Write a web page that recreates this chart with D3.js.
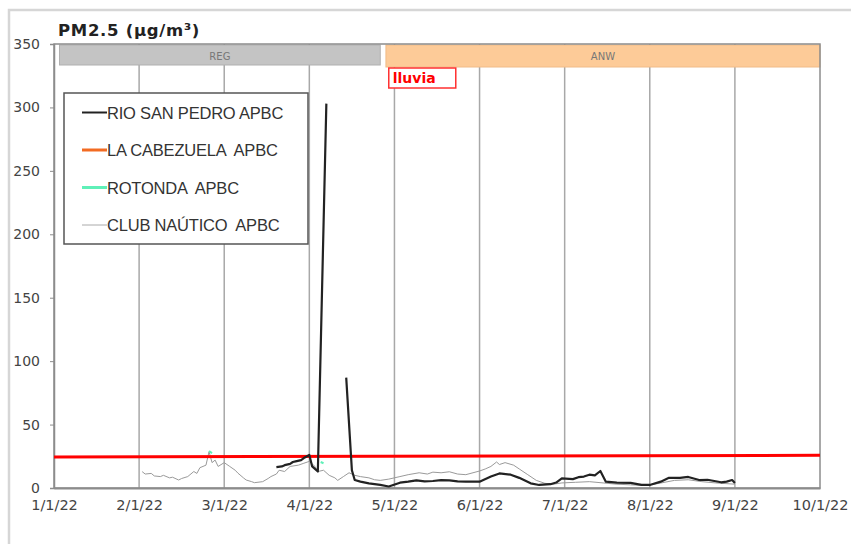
<!DOCTYPE html>
<html>
<head>
<meta charset="utf-8">
<script src="https://cdn.jsdelivr.net/npm/d3@7"></script>
<style>
  body { margin: 0; background: #fff; }
  svg { display: block; }
  text { white-space: pre; }
</style>
</head>
<body>
<div id="chart"></div>
<script>
// tick labels on the month axis
const monthLabels = ["1/1/22", "2/1/22", "3/1/22", "4/1/22", "5/1/22", "6/1/22", "7/1/22", "8/1/22", "9/1/22", "10/1/22"];
const yTicks = [0, 50, 100, 150, 200, 250, 300, 350];

const seriesNames = ["RIO SAN PEDRO APBC", "LA CABEZUELA  APBC", "ROTONDA  APBC", "CLUB NAÚTICO  APBC"];

// RIO SAN PEDRO, two pieces (gap between the two peaks)
const rioSanPedro1 = [
    ["2022-03-20", 16.5], ["2022-03-22", 17], ["2022-03-23", 18], ["2022-03-25", 19], ["2022-03-26", 20.5],
    ["2022-03-27", 21], ["2022-03-29", 22], ["2022-03-30", 23.6], ["2022-04-01", 26], ["2022-04-02", 17],
    ["2022-04-04", 13], ["2022-04-07", 303]
];
const rioSanPedro2 = [
    ["2022-04-14", 87], ["2022-04-16", 14], ["2022-04-17", 6.3], ["2022-04-19", 5], ["2022-04-22", 3.7],
    ["2022-04-26", 2.4], ["2022-04-29", 1.2], ["2022-05-03", 4.2], ["2022-05-06", 5], ["2022-05-09", 6],
    ["2022-05-12", 5.2], ["2022-05-15", 5.5], ["2022-05-18", 6.2], ["2022-05-21", 6], ["2022-05-24", 5.2],
    ["2022-05-27", 5], ["2022-06-01", 5], ["2022-06-05", 9], ["2022-06-08", 11.5], ["2022-06-12", 10.5],
    ["2022-06-15", 8], ["2022-06-19", 3.7], ["2022-06-22", 2.4], ["2022-06-26", 3], ["2022-06-28", 4.3],
    ["2022-06-30", 7.6], ["2022-07-04", 7], ["2022-07-06", 8.5], ["2022-07-08", 9], ["2022-07-10", 10.5],
    ["2022-07-12", 10], ["2022-07-14", 13.4], ["2022-07-16", 5], ["2022-07-20", 4.3], ["2022-07-25", 4],
    ["2022-07-29", 2.4], ["2022-08-01", 2.4], ["2022-08-05", 5], ["2022-08-08", 8], ["2022-08-12", 8],
    ["2022-08-15", 8.7], ["2022-08-19", 6.3], ["2022-08-22", 6.5], ["2022-08-24", 5.7], ["2022-08-27", 4.5],
    ["2022-08-29", 5], ["2022-08-31", 6.3], ["2022-09-01", 4]
];

const laCabezuela = [];

// only a couple of short traces show
const rotonda1 = [["2022-02-24", 29], ["2022-02-25", 27.5]];
const rotonda2 = [["2022-04-05", 20.5], ["2022-04-06", 19.5]];

const clubNautico = [
    ["2022-02-02", 12.9], ["2022-02-03", 11], ["2022-02-05", 11.5], ["2022-02-06", 9.5], ["2022-02-08", 9],
    ["2022-02-09", 10], ["2022-02-11", 8], ["2022-02-12", 8.5], ["2022-02-14", 6.3], ["2022-02-15", 7.5],
    ["2022-02-17", 9], ["2022-02-19", 13], ["2022-02-20", 11.5], ["2022-02-21", 16], ["2022-02-23", 18],
    ["2022-02-24", 28.6], ["2022-02-25", 20], ["2022-02-26", 22], ["2022-02-27", 17], ["2022-03-01", 20],
    ["2022-03-02", 18.5], ["2022-03-03", 17], ["2022-03-05", 14], ["2022-03-06", 11.7], ["2022-03-08", 8],
    ["2022-03-09", 6.3], ["2022-03-11", 5], ["2022-03-12", 4.2], ["2022-03-15", 5], ["2022-03-17", 7.5],
    ["2022-03-18", 9], ["2022-03-20", 11], ["2022-03-21", 14], ["2022-03-23", 13], ["2022-03-25", 17],
    ["2022-03-28", 18], ["2022-03-30", 19.5], ["2022-04-01", 21], ["2022-04-03", 17], ["2022-04-04", 13],
    ["2022-04-06", 14], ["2022-04-08", 10], ["2022-04-10", 8], ["2022-04-11", 6], ["2022-04-13", 9],
    ["2022-04-15", 12], ["2022-04-17", 10], ["2022-04-19", 9], ["2022-04-22", 8], ["2022-04-24", 6.5],
    ["2022-04-26", 6], ["2022-04-29", 7], ["2022-05-03", 9], ["2022-05-06", 10.5], ["2022-05-10", 12],
    ["2022-05-13", 11], ["2022-05-15", 12.5], ["2022-05-18", 12], ["2022-05-21", 12.8], ["2022-05-24", 11],
    ["2022-05-27", 10.5], ["2022-06-01", 13.4], ["2022-06-03", 15], ["2022-06-05", 17], ["2022-06-07", 20.5],
    ["2022-06-08", 18.5], ["2022-06-10", 20], ["2022-06-13", 18], ["2022-06-15", 15], ["2022-06-18", 10.5],
    ["2022-06-21", 6], ["2022-06-24", 3.7], ["2022-06-27", 3], ["2022-06-30", 4], ["2022-07-05", 4.5],
    ["2022-07-10", 5], ["2022-07-15", 4], ["2022-07-20", 3], ["2022-07-25", 2.5], ["2022-07-30", 2],
    ["2022-08-04", 3.5], ["2022-08-10", 6], ["2022-08-15", 6.5], ["2022-08-20", 5], ["2022-08-25", 4],
    ["2022-09-01", 3]
];

// red limit line
const limitLine = [["2022-01-01", 24.5], ["2022-10-01", 25.8]];

// top bands
const bandLabels = ["REG", "ANW"];
const bandStart = ["2022-01-03", "2022-04-28"];
const bandEnd = ["2022-04-26", "2022-10-01"];

const noteLabel = "lluvia";
const noteDate = "2022-04-29";

// date -> position in months since 1/1/22
function monthPos(s) {
    const d = new Date(s + "T00:00:00");
    const m = (d.getFullYear() - 2022) * 12 + d.getMonth();
    const dim = new Date(d.getFullYear(), d.getMonth() + 1, 0).getDate();
    return m + (d.getDate() - 1) / dim;
}

const W = 851, H = 544;
const svg = d3.select("#chart").append("svg")
    .attr("width", W)
    .attr("height", H);

// outer frame
svg.append("rect")
    .attr("x", 9).attr("y", 10)
    .attr("width", 900).attr("height", 600)
    .attr("fill", "none")
    .attr("stroke", "#d6d6d6")
    .attr("stroke-width", 2.5);

const pLeft = 54, pRight = 820, pTop = 44, pBottom = 488;

const x = d3.scaleLinear().domain([0, monthLabels.length - 1]).range([pLeft, pRight]);
const y = d3.scaleLinear().domain([0, 350]).range([pBottom, pTop]);

// vertical grid
svg.append("g")
    .selectAll("line")
    .data(monthLabels.slice(1, -1))
    .enter().append("line")
    .attr("x1", (d, i) => x(i + 1)).attr("x2", (d, i) => x(i + 1))
    .attr("y1", pTop).attr("y2", pBottom)
    .attr("stroke", "#a8a8a8")
    .attr("stroke-width", 1.5);

// bands
const bands = svg.append("g");
bandLabels.forEach((b, i) => {
    const x0 = x(monthPos(bandStart[i])), x1 = x(monthPos(bandEnd[i]));
    bands.append("rect")
        .attr("x", x0).attr("y", pTop + 1)
        .attr("width", x1 - x0).attr("height", i == 0 ? 20 : 22)
        .attr("fill", i == 0 ? "#c4c4c4" : "#fdcb98")
        .attr("stroke", i == 0 ? "#b0b0b0" : "#f0bb88")
        .attr("stroke-width", 1);
    bands.append("text")
        .attr("x", (x0 + x1) / 2).attr("y", pTop + 16)
        .attr("text-anchor", "middle")
        .attr("font-family", "DejaVu Sans, sans-serif")
        .attr("font-size", 10)
        .attr("fill", "#777")
        .text(b);
});

// note box
const nx = x(monthPos(noteDate));
svg.append("rect")
    .attr("x", nx).attr("y", 68)
    .attr("width", 67).attr("height", 20)
    .attr("fill", "#fff")
    .attr("stroke", "#ff3030")
    .attr("stroke-width", 1.5);
svg.append("text")
    .attr("x", nx + 4).attr("y", 83)
    .attr("font-family", "DejaVu Sans, sans-serif")
    .attr("font-weight", "bold")
    .attr("font-size", 14)
    .attr("fill", "#ff0000")
    .text(noteLabel);

// axes frame
svg.append("rect")
    .attr("x", pLeft).attr("y", pTop)
    .attr("width", pRight - pLeft).attr("height", pBottom - pTop)
    .attr("fill", "none")
    .attr("stroke", "#8c8c8c")
    .attr("stroke-width", 1.5);

const yAxis = svg.append("g")
    .attr("transform", `translate(${pLeft},0)`)
    .call(d3.axisLeft(y).tickValues(yTicks).tickSize(4).tickPadding(10));
yAxis.select(".domain").attr("stroke", "#8c8c8c").attr("stroke-width", 1.5);
yAxis.selectAll(".tick line").attr("stroke", "#8c8c8c");
yAxis.selectAll("text")
    .attr("font-family", "DejaVu Sans, sans-serif")
    .attr("font-size", 14)
    .attr("fill", "#444");

const xAxis = svg.append("g")
    .attr("transform", `translate(0,${pBottom})`)
    .call(d3.axisBottom(x).tickValues(d3.range(monthLabels.length))
        .tickFormat(i => monthLabels[i]).tickSize(0).tickPadding(12));
xAxis.select(".domain").attr("stroke", "#8c8c8c").attr("stroke-width", 2);
xAxis.selectAll("text")
    .attr("font-family", "DejaVu Sans, sans-serif")
    .attr("font-size", 14.5)
    .attr("fill", "#444");

// lines
const line = d3.line()
    .x(d => x(monthPos(d[0])))
    .y(d => y(d[1]));

function drawLine(data, color, width) {
    if (!data.length) return;
    svg.append("path")
        .datum(data)
        .attr("fill", "none")
        .attr("stroke", color)
        .attr("stroke-width", width)
        .attr("stroke-linejoin", "round")
        .attr("d", line);
}

drawLine(clubNautico, "#9a9a9a", 1);
drawLine(laCabezuela, "#f26b22", 2.5);
drawLine(rotonda1, "#5ff0b8", 2);
drawLine(rotonda2, "#5ff0b8", 2);
drawLine(limitLine, "#ff0000", 3);
drawLine(rioSanPedro1, "#222", 2.2);
drawLine(rioSanPedro2, "#222", 2.2);

// title
svg.append("text")
    .attr("x", 58).attr("y", 36)
    .attr("font-family", "DejaVu Sans, sans-serif")
    .attr("font-weight", "bold")
    .attr("font-size", 16.5)
    .attr("letter-spacing", 0.7)
    .attr("fill", "#222")
    .text("PM2.5 (µg/m³)");

// legend
const lg = svg.append("g");
lg.append("rect")
    .attr("x", 64).attr("y", 93)
    .attr("width", 244).attr("height", 151)
    .attr("fill", "#fff")
    .attr("stroke", "#555")
    .attr("stroke-width", 1.5);
const legendColors = ["#222", "#f26b22", "#5ff0b8", "#aaa"];
const legendWidths = [2, 3, 3, 1];
seriesNames.forEach((n, i) => {
    const ly = 112.5 + i * 37.5;
    lg.append("line")
        .attr("x1", 82).attr("x2", 107)
        .attr("y1", ly).attr("y2", ly)
        .attr("stroke", legendColors[i])
        .attr("stroke-width", legendWidths[i]);
    lg.append("text")
        .attr("x", 107).attr("y", ly + 6)
        .attr("font-family", "Liberation Sans, Arial, sans-serif")
        .attr("font-size", 16.5)
        .attr("letter-spacing", -0.2)
        .attr("fill", "#333")
        .text(n);
});
</script>
</body>
</html>
